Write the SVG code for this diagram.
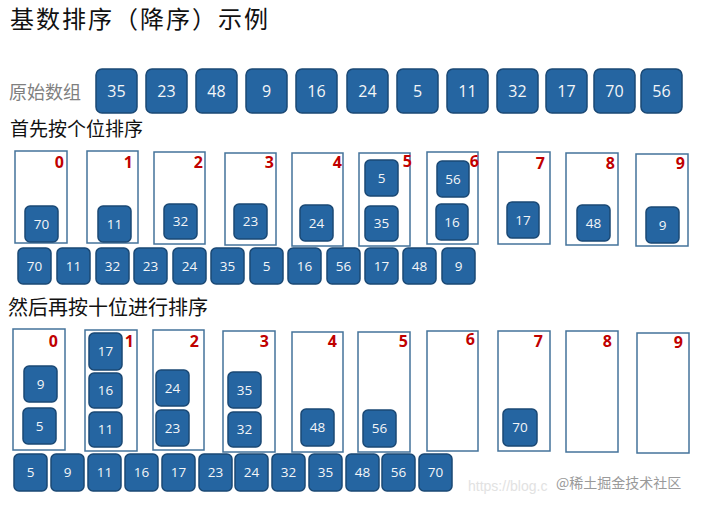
<svg xmlns="http://www.w3.org/2000/svg" width="701" height="505" viewBox="0 0 701 505">
<style>
.bx{fill:#2565a1;stroke:#1a4874;stroke-width:1.5}
.bt{font-family:"Open Sans","Liberation Sans",sans-serif;fill:#f4f6f8;text-anchor:middle}
.big{font-size:16px}
.sm{font-size:13.5px}
.bk{fill:#fff;stroke:#44739b;stroke-width:1.5}
.lb{font-family:"Open Sans","Liberation Sans",sans-serif;font-weight:bold;font-size:16px;fill:#c00000;text-anchor:end}
.cn{font-family:"Noto Sans CJK SC",sans-serif}
</style>
<rect width="701" height="505" fill="#fff"/>
<text class="cn" x="10" y="28" font-size="24" letter-spacing="2" fill="#111">基数排序（降序）示例</text>
<text class="cn" x="9" y="99" font-size="18" fill="#7f7f7f">原始数组</text>
<text class="cn" x="10" y="136" font-size="19" fill="#111">首先按个位排序</text>
<text class="cn" x="8" y="315" font-size="20" fill="#111">然后再按十位进行排序</text>

<g id="original">
<g id="o1"><rect class="bx" x="96" y="69" width="41" height="44" rx="6"/><text class="bt big" x="116.5" y="97">35</text></g>
<g id="o2"><rect class="bx" x="146" y="69" width="41" height="44" rx="6"/><text class="bt big" x="166.5" y="97">23</text></g>
<g id="o3"><rect class="bx" x="196" y="69" width="41" height="44" rx="6"/><text class="bt big" x="216.5" y="97">48</text></g>
<g id="o4"><rect class="bx" x="246" y="69" width="41" height="44" rx="6"/><text class="bt big" x="266.5" y="97">9</text></g>
<g id="o5"><rect class="bx" x="296" y="69" width="41" height="44" rx="6"/><text class="bt big" x="316.5" y="97">16</text></g>
<g id="o6"><rect class="bx" x="347" y="69" width="41" height="44" rx="6"/><text class="bt big" x="367.5" y="97">24</text></g>
<g id="o7"><rect class="bx" x="397" y="69" width="41" height="44" rx="6"/><text class="bt big" x="417.5" y="97">5</text></g>
<g id="o8"><rect class="bx" x="447" y="69" width="41" height="44" rx="6"/><text class="bt big" x="467.5" y="97">11</text></g>
<g id="o9"><rect class="bx" x="497" y="69" width="41" height="44" rx="6"/><text class="bt big" x="517.5" y="97">32</text></g>
<g id="o10"><rect class="bx" x="546" y="69" width="41" height="44" rx="6"/><text class="bt big" x="566.5" y="97">17</text></g>
<g id="o11"><rect class="bx" x="594" y="69" width="41" height="44" rx="6"/><text class="bt big" x="614.5" y="97">70</text></g>
<g id="o12"><rect class="bx" x="641" y="69" width="41" height="44" rx="6"/><text class="bt big" x="661.5" y="97">56</text></g>
</g>

<g id="pass1-buckets">
<g id="p1b0"><rect class="bk" x="15" y="151" width="52" height="92"/><text class="lb" x="64" y="168">0</text></g>
<g id="p1b1"><rect class="bk" x="87" y="151" width="51" height="92"/><text class="lb" x="133" y="168">1</text></g>
<g id="p1b2"><rect class="bk" x="154" y="152" width="51" height="92"/><text class="lb" x="203" y="168">2</text></g>
<g id="p1b3"><rect class="bk" x="225" y="153" width="51" height="92"/><text class="lb" x="274" y="168">3</text></g>
<g id="p1b4"><rect class="bk" x="292" y="153" width="51" height="93"/><text class="lb" x="342" y="168">4</text></g>
<g id="p1b5"><rect class="bk" x="359" y="153" width="51" height="93"/><text class="lb" x="412" y="167">5</text></g>
<g id="p1b6"><rect class="bk" x="427" y="152" width="51" height="92"/><text class="lb" x="479" y="167">6</text></g>
<g id="p1b7"><rect class="bk" x="498" y="152" width="52" height="92"/><text class="lb" x="545" y="169">7</text></g>
<g id="p1b8"><rect class="bk" x="566" y="153" width="52" height="92"/><text class="lb" x="615" y="169">8</text></g>
<g id="p1b9"><rect class="bk" x="636" y="154" width="52" height="92"/><text class="lb" x="685" y="169">9</text></g>
</g>

<g id="pass1-items">
<g id="a70"><rect class="bx" x="25" y="206" width="33" height="36" rx="5"/><text class="bt sm" x="41.5" y="229">70</text></g>
<g id="a11"><rect class="bx" x="98" y="206" width="33" height="36" rx="5"/><text class="bt sm" x="114.5" y="229">11</text></g>
<g id="a32"><rect class="bx" x="164" y="204" width="33" height="35" rx="5"/><text class="bt sm" x="180.5" y="226">32</text></g>
<g id="a23"><rect class="bx" x="234" y="204" width="33" height="35" rx="5"/><text class="bt sm" x="250.5" y="226">23</text></g>
<g id="a24"><rect class="bx" x="300" y="205" width="33" height="36" rx="5"/><text class="bt sm" x="316.5" y="228">24</text></g>
<g id="a5"><rect class="bx" x="365" y="160" width="33" height="36" rx="5"/><text class="bt sm" x="381.5" y="183">5</text></g>
<g id="a35"><rect class="bx" x="365" y="206" width="33" height="35" rx="5"/><text class="bt sm" x="381.5" y="228">35</text></g>
<g id="a56"><rect class="bx" x="437" y="161" width="32" height="36" rx="5"/><text class="bt sm" x="453" y="184">56</text></g>
<g id="a16"><rect class="bx" x="436" y="204" width="32" height="36" rx="5"/><text class="bt sm" x="452" y="227">16</text></g>
<g id="a17"><rect class="bx" x="507" y="202" width="32" height="36" rx="5"/><text class="bt sm" x="523" y="225">17</text></g>
<g id="a48"><rect class="bx" x="577" y="205" width="33" height="36" rx="5"/><text class="bt sm" x="593.5" y="228">48</text></g>
<g id="a9"><rect class="bx" x="646" y="207" width="33" height="36" rx="5"/><text class="bt sm" x="662.5" y="230">9</text></g>
</g>

<g id="pass1-result">
<g id="r1_70"><rect class="bx" x="18" y="248" width="33" height="36" rx="5"/><text class="bt sm" x="34.5" y="271">70</text></g>
<g id="r1_11"><rect class="bx" x="57" y="248" width="33" height="36" rx="5"/><text class="bt sm" x="73.5" y="271">11</text></g>
<g id="r1_32"><rect class="bx" x="96" y="248" width="33" height="36" rx="5"/><text class="bt sm" x="112.5" y="271">32</text></g>
<g id="r1_23"><rect class="bx" x="134" y="248" width="33" height="36" rx="5"/><text class="bt sm" x="150.5" y="271">23</text></g>
<g id="r1_24"><rect class="bx" x="173" y="248" width="33" height="36" rx="5"/><text class="bt sm" x="189.5" y="271">24</text></g>
<g id="r1_35"><rect class="bx" x="211" y="248" width="33" height="36" rx="5"/><text class="bt sm" x="227.5" y="271">35</text></g>
<g id="r1_5"><rect class="bx" x="250" y="248" width="33" height="36" rx="5"/><text class="bt sm" x="266.5" y="271">5</text></g>
<g id="r1_16"><rect class="bx" x="288" y="248" width="33" height="36" rx="5"/><text class="bt sm" x="304.5" y="271">16</text></g>
<g id="r1_56"><rect class="bx" x="327" y="248" width="33" height="36" rx="5"/><text class="bt sm" x="343.5" y="271">56</text></g>
<g id="r1_17"><rect class="bx" x="365" y="248" width="33" height="36" rx="5"/><text class="bt sm" x="381.5" y="271">17</text></g>
<g id="r1_48"><rect class="bx" x="403" y="248" width="33" height="36" rx="5"/><text class="bt sm" x="419.5" y="271">48</text></g>
<g id="r1_9"><rect class="bx" x="442" y="248" width="33" height="36" rx="5"/><text class="bt sm" x="458.5" y="271">9</text></g>
</g>

<g id="pass2-buckets">
<g id="p2b0"><rect class="bk" x="13" y="329" width="52" height="121"/><text class="lb" x="58" y="347">0</text></g>
<g id="p2b1"><rect class="bk" x="85" y="330" width="52" height="121"/><text class="lb" x="134" y="347">1</text></g>
<g id="p2b2"><rect class="bk" x="153" y="330" width="51" height="120"/><text class="lb" x="199" y="347">2</text></g>
<g id="p2b3"><rect class="bk" x="223" y="331" width="52" height="121"/><text class="lb" x="269" y="347">3</text></g>
<g id="p2b4"><rect class="bk" x="292" y="332" width="51" height="120"/><text class="lb" x="337" y="347">4</text></g>
<g id="p2b5"><rect class="bk" x="358" y="332" width="52" height="120"/><text class="lb" x="408" y="347">5</text></g>
<g id="p2b6"><rect class="bk" x="427" y="331" width="51" height="120"/><text class="lb" x="475" y="345">6</text></g>
<g id="p2b7"><rect class="bk" x="498" y="331" width="52" height="120"/><text class="lb" x="543" y="347">7</text></g>
<g id="p2b8"><rect class="bk" x="566" y="331" width="52" height="121"/><text class="lb" x="612" y="347">8</text></g>
<g id="p2b9"><rect class="bk" x="637" y="333" width="52" height="120"/><text class="lb" x="683" y="348">9</text></g>
</g>

<g id="pass2-items">
<g id="b9"><rect class="bx" x="24" y="366" width="33" height="36" rx="5"/><text class="bt sm" x="40.5" y="389">9</text></g>
<g id="b5"><rect class="bx" x="23" y="408" width="33" height="36" rx="5"/><text class="bt sm" x="39.5" y="431">5</text></g>
<g id="b17"><rect class="bx" x="89" y="333" width="33" height="37" rx="5"/><text class="bt sm" x="105.5" y="356">17</text></g>
<g id="b16"><rect class="bx" x="89" y="373" width="33" height="35" rx="5"/><text class="bt sm" x="105.5" y="395">16</text></g>
<g id="b11"><rect class="bx" x="89" y="412" width="33" height="35" rx="5"/><text class="bt sm" x="105.5" y="434">11</text></g>
<g id="b24"><rect class="bx" x="156" y="370" width="33" height="36" rx="5"/><text class="bt sm" x="172.5" y="393">24</text></g>
<g id="b23"><rect class="bx" x="156" y="410" width="33" height="36" rx="5"/><text class="bt sm" x="172.5" y="433">23</text></g>
<g id="b35"><rect class="bx" x="228" y="372" width="33" height="36" rx="5"/><text class="bt sm" x="244.5" y="395">35</text></g>
<g id="b32"><rect class="bx" x="228" y="412" width="33" height="35" rx="5"/><text class="bt sm" x="244.5" y="434">32</text></g>
<g id="b48"><rect class="bx" x="301" y="409" width="33" height="37" rx="5"/><text class="bt sm" x="317.5" y="432">48</text></g>
<g id="b56"><rect class="bx" x="363" y="410" width="33" height="37" rx="5"/><text class="bt sm" x="379.5" y="433">56</text></g>
<g id="b70"><rect class="bx" x="503" y="409" width="34" height="37" rx="5"/><text class="bt sm" x="520" y="432">70</text></g>
</g>

<g id="pass2-result">
<g id="r2_5"><rect class="bx" x="14" y="454" width="33" height="37" rx="5"/><text class="bt sm" x="30.5" y="477">5</text></g>
<g id="r2_9"><rect class="bx" x="51" y="454" width="33" height="37" rx="5"/><text class="bt sm" x="67.5" y="477">9</text></g>
<g id="r2_11"><rect class="bx" x="88" y="454" width="33" height="37" rx="5"/><text class="bt sm" x="104.5" y="477">11</text></g>
<g id="r2_16"><rect class="bx" x="125" y="454" width="33" height="37" rx="5"/><text class="bt sm" x="141.5" y="477">16</text></g>
<g id="r2_17"><rect class="bx" x="162" y="454" width="33" height="37" rx="5"/><text class="bt sm" x="178.5" y="477">17</text></g>
<g id="r2_23"><rect class="bx" x="199" y="454" width="33" height="37" rx="5"/><text class="bt sm" x="215.5" y="477">23</text></g>
<g id="r2_24"><rect class="bx" x="235" y="454" width="33" height="37" rx="5"/><text class="bt sm" x="251.5" y="477">24</text></g>
<g id="r2_32"><rect class="bx" x="272" y="454" width="33" height="37" rx="5"/><text class="bt sm" x="288.5" y="477">32</text></g>
<g id="r2_35"><rect class="bx" x="309" y="454" width="33" height="37" rx="5"/><text class="bt sm" x="325.5" y="477">35</text></g>
<g id="r2_48"><rect class="bx" x="346" y="454" width="33" height="37" rx="5"/><text class="bt sm" x="362.5" y="477">48</text></g>
<g id="r2_56"><rect class="bx" x="382" y="454" width="33" height="37" rx="5"/><text class="bt sm" x="398.5" y="477">56</text></g>
<g id="r2_70"><rect class="bx" x="419" y="454" width="33" height="37" rx="5"/><text class="bt sm" x="435.5" y="477">70</text></g>
</g>

<g id="watermark">
<text x="468" y="491" font-family="Liberation Sans,sans-serif" font-size="14" fill="#e2e2e2">https://blog.c</text>
<text class="cn" x="556" y="488" font-size="14" fill="#9a9a9a">@稀土掘金技术社区</text>
</g>
</svg>
